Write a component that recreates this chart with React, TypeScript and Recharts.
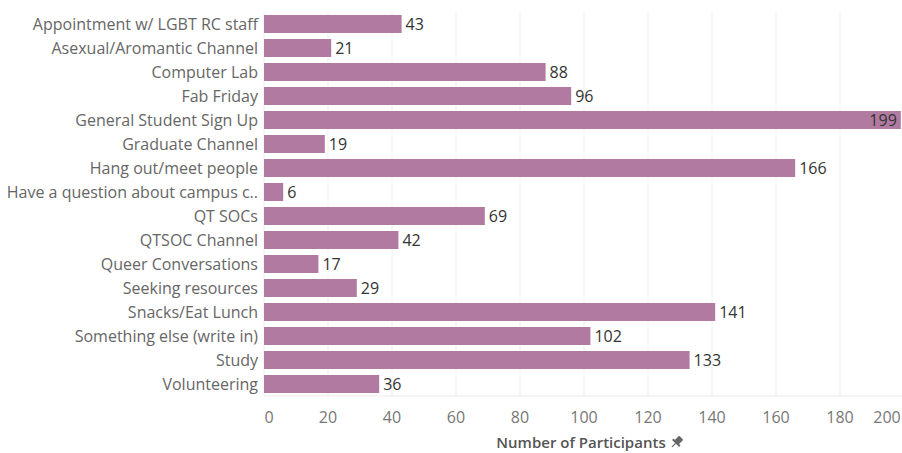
import React from 'react';
import {
  BarChart,
  Bar,
  XAxis,
  YAxis,
  CartesianGrid,
  LabelList
} from 'recharts';

const categories = [
  'Appointment w/ LGBT RC staff',
  'Asexual/Aromantic Channel',
  'Computer Lab',
  'Fab Friday',
  'General Student Sign Up',
  'Graduate Channel',
  'Hang out/meet people',
  'Have a question about campus c..',
  'QT SOCs',
  'QTSOC Channel',
  'Queer Conversations',
  'Seeking resources',
  'Snacks/Eat Lunch',
  'Something else (write in)',
  'Study',
  'Volunteering'
];
const participants = [43, 21, 88, 96, 199, 19, 166, 6, 69, 42, 17, 29, 141, 102, 133, 36];
const xTicks = [0, 20, 40, 60, 80, 100, 120, 140, 160, 180, 200];

const data = categories.map((name, i) => ({ name, value: participants[i] }));

const FONT = '"Open Sans", sans-serif';
const BAR_COLOR = '#b07aa1';

// Tableau nudges the edge labels inward so they stay in view
const XTick = (props: any) => {
  const { x, y, payload } = props;
  let dx = 0;
  if (payload.value === 0) dx = 5;
  if (payload.value === 200) dx = -17;
  return (
    <text x={x + dx} y={y} dy={17} textAnchor="middle" fill="#777" fontSize={16} fontFamily={FONT}>
      {payload.value}
    </text>
  );
};

const ValueLabel = (props: any) => {
  const { x, y, width, height, value } = props;
  const inside = x + width + 32 > 902;
  return (
    <text
      x={inside ? x + width - 4 : x + width + 4}
      y={y + height / 2}
      dy={5.5}
      textAnchor={inside ? 'end' : 'start'}
      fill="#333"
      fontSize={16}
      fontFamily={FONT}
    >
      {value}
    </text>
  );
};

const AxisTitle = (props: any) => {
  const { viewBox } = props;
  const cx = viewBox.x + viewBox.width / 2 - 3;
  const ty = 448;
  return (
    <g>
      <text x={cx} y={ty} textAnchor="middle" fill="#555" fontSize={15} fontWeight={600} fontFamily={FONT}>
        Number of Participants
      </text>
      {/* pin icon */}
      <g transform={`translate(${cx + 96}, ${ty - 6}) rotate(45)`} fill="#666">
        <rect x={-3} y={-6} width={6} height={7} rx={1} />
        <rect x={-5} y={0} width={10} height={2} />
        <rect x={-0.6} y={2} width={1.2} height={5} />
      </g>
    </g>
  );
};

export default function App() {
  return (
    <div style={{ position: 'fixed', left: 0, top: 0, width: 902, height: 453, overflow: 'hidden', background: '#fff' }}>
      <BarChart
        width={906}
        height={453}
        data={data}
        layout="vertical"
        margin={{ top: 12, right: 2, bottom: 0, left: 0 }}
        barSize={18}
      >
        <CartesianGrid horizontal={false} stroke="#efefef" />
        <XAxis
          type="number"
          domain={[0, 200]}
          ticks={xTicks}
          interval={0}
          axisLine={{ stroke: '#ebebeb' }}
          tickLine={false}
          tickSize={6}
          tickMargin={4}
          tick={<XTick />}
          height={57}
          label={<AxisTitle />}
        />
        <YAxis
          type="category"
          dataKey="name"
          width={264}
          axisLine={false}
          tickLine={false}
          tickSize={6}
          tickMargin={0}
          interval={0}
          tick={{ fill: '#666', fontSize: 16, fontFamily: FONT }}
        />
        <Bar dataKey="value" fill={BAR_COLOR} isAnimationActive={false}>
          <LabelList dataKey="value" content={<ValueLabel />} />
        </Bar>
      </BarChart>
    </div>
  );
}
